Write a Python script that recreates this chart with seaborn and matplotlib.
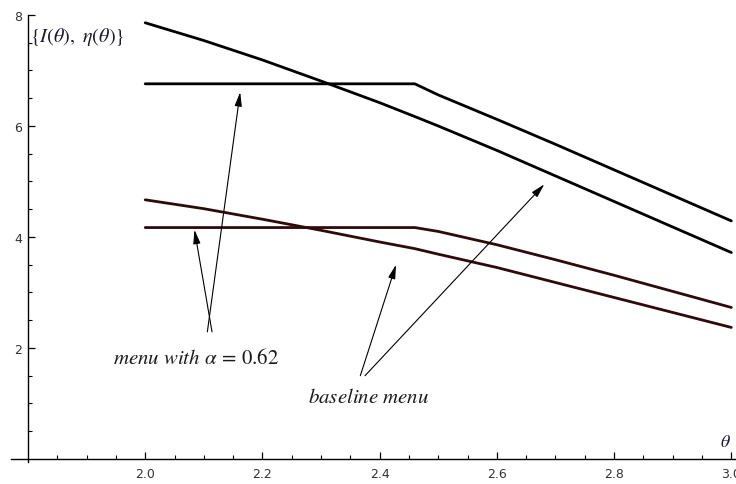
import numpy as np
import pandas as pd
import matplotlib
matplotlib.use("Agg")
import matplotlib.pyplot as plt
import seaborn as sns

# ---- data ----
theta = [2.0, 2.1, 2.2, 2.3, 2.4, 2.46, 2.5, 2.6, 2.7, 2.8, 2.9, 3.0]
I_baseline = [7.86, 7.54, 7.19, 6.81, 6.42, 6.17, 6.00, 5.56, 5.10, 4.64, 4.18, 3.72]
I_menu = [6.76, 6.76, 6.76, 6.76, 6.76, 6.76, 6.56, 6.12, 5.67, 5.21, 4.75, 4.29]
eta_baseline = [4.67, 4.51, 4.32, 4.12, 3.91, 3.79, 3.69, 3.45, 3.18, 2.91, 2.64, 2.37]
eta_menu = [4.17, 4.17, 4.17, 4.17, 4.17, 4.17, 4.10, 3.86, 3.59, 3.31, 3.02, 2.73]

x_major = [2.0, 2.2, 2.4, 2.6, 2.8, 3.0]
y_major = [2, 4, 6, 8]

series = {
    "I_baseline": I_baseline,
    "I_menu": I_menu,
    "eta_baseline": eta_baseline,
    "eta_menu": eta_menu,
}
df = pd.concat(
    [pd.DataFrame({"theta": theta, "value": v, "series": k}) for k, v in series.items()],
    ignore_index=True,
)

sns.set_theme(style="ticks")
plt.rcParams["font.family"] = ["DejaVu Sans"]
plt.rcParams["mathtext.fontset"] = "stix"

fig = plt.figure(figsize=(7.36, 4.85), dpi=100)
ax = fig.add_axes([11 / 736, 21.7 / 485, 725 / 736, 447.3 / 485])

palette = {"I_baseline": "#000000", "I_menu": "#000000",
           "eta_baseline": "#2e0a0a", "eta_menu": "#2e0a0a"}
sns.lineplot(data=df, x="theta", y="value", hue="series", palette=palette,
             linewidth=2.0, legend=False, ax=ax, sort=False)

ax.set_xlim(1.771, 3.008)
ax.set_ylim(-0.06, 8.0)

# Mathematica-style crossing axes
ax.spines["left"].set_position(("data", 1.8))
ax.spines["bottom"].set_position(("data", 0))
ax.spines["right"].set_visible(False)
ax.spines["top"].set_visible(False)
for s in ("left", "bottom"):
    ax.spines[s].set_linewidth(1.0)
    ax.spines[s].set_color("black")

ax.set_xticks(x_major)
ax.set_xticklabels([f"{v:.1f}" for v in x_major])
ax.set_xticks(np.arange(1.85, 3.0, 0.05), minor=True)
ax.set_yticks(y_major)
ax.set_yticklabels([str(v) for v in y_major])
ax.set_yticks(np.arange(0.5, 8.0, 0.5), minor=True)
ax.tick_params(which="major", direction="in", length=5, width=0.9,
               labelsize=9, colors="black", labelcolor="#333333")
ax.tick_params(which="minor", direction="in", length=3, width=0.8, colors="black")
ax.tick_params(axis="x", pad=6)
ax.tick_params(axis="y", pad=4)
ax.set_xlabel("")
ax.set_ylabel("")

# axis labels placed like Mathematica
ax.text(1.804, 7.62, r"$\{I(\theta),\ \eta(\theta)\}$", fontsize=14.5,
        ha="left", va="center", color="#1a1a2a")
ax.text(2.99, 0.32, r"$\theta$", fontsize=13, ha="center", va="center",
        color="#1a1a2a")

# annotations
arrow = dict(arrowstyle="-|>,head_length=0.7,head_width=0.18", lw=0.8,
             color="black", shrinkA=0, shrinkB=0, mutation_scale=12)
ax.text(2.087, 1.84, r"$\mathit{menu\ with}\ \alpha\,=\,0.62$", fontsize=15,
        ha="center", va="center", color="#1a1a1a")
ax.annotate("", xy=(2.162, 6.61), xytext=(2.106, 2.29), arrowprops=arrow)
ax.annotate("", xy=(2.084, 4.13), xytext=(2.114, 2.29), arrowprops=arrow)

ax.text(2.381, 1.14, r"$\mathit{baseline\ menu}$", fontsize=15,
        ha="center", va="center", color="#1a1a1a")
ax.annotate("", xy=(2.428, 3.50), xytext=(2.367, 1.50), arrowprops=arrow)
ax.annotate("", xy=(2.681, 4.95), xytext=(2.375, 1.50), arrowprops=arrow)

fig.savefig("out.png", dpi=100)
